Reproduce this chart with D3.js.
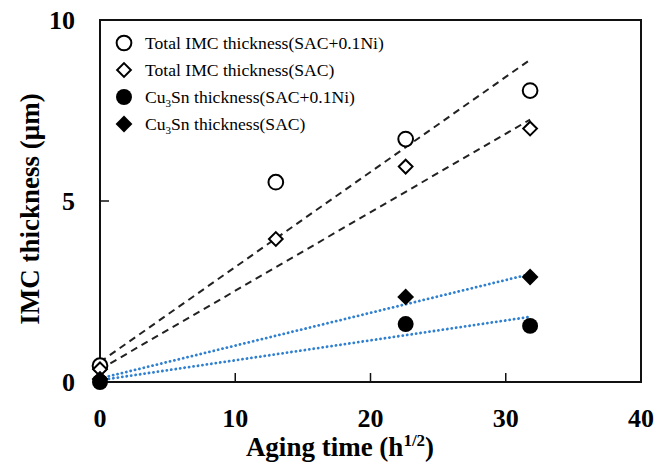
<!DOCTYPE html>
<html>
<head>
<meta charset="utf-8">
<script src="https://cdn.jsdelivr.net/npm/d3@7"></script>
<style>
  body { margin: 0; background: #fff; }
  svg { display: block; font-family: "Liberation Serif", "Times New Roman", serif; }
</style>
</head>
<body>
<svg id="chart" width="658" height="465"></svg>
<script>
// aging time (h^1/2)
const times = [0, 13, 22.6, 31.8];

// thickness values (um) per series
const totalNi = [0.45, 5.52, 6.71, 8.05];
const totalSac = [0.35, 3.95, 5.95, 7.0];
const cu3snNi = [0.0, null, 1.6, 1.55];
const cu3snSac = [0.08, null, 2.35, 2.9];

// linear fit lines: [x0, y0, x1, y1]
const fitTotalNi = [0, 0.55, 31.8, 8.9];
const fitTotalSac = [0, 0.35, 31.8, 7.25];
const fitCuSac = [0, 0.1, 31.8, 2.98];
const fitCuNi = [0, 0.05, 31.8, 1.8];

const xTicks = [0, 10, 20, 30, 40];
const yTicks = [0, 5, 10];

const margin = { left: 100, right: 17, top: 20, bottom: 83 };
const svg = d3.select("#chart");
const W = +svg.attr("width"), H = +svg.attr("height");
const iw = W - margin.left - margin.right;
const ih = H - margin.top - margin.bottom;

const x = d3.scaleLinear().domain([0, 40]).range([0, iw]);
const y = d3.scaleLinear().domain([0, 10]).range([ih, 0]);

const g = svg.append("g").attr("transform", `translate(${margin.left},${margin.top})`);

// fit lines
const line = d3.line().x(d => x(d[0])).y(d => y(d[1]));
function fit(f, color, dash) {
    g.append("path")
        .attr("d", line([[f[0], f[1]], [f[2], f[3]]]))
        .attr("fill", "none")
        .attr("stroke", color)
        .attr("stroke-width", color === "#222" ? 2 : 2.8)
        .attr("stroke-dasharray", dash)
        .attr("stroke-linecap", color === "#222" ? "butt" : "round");
}
fit(fitTotalNi, "#222", "7,5");
fit(fitTotalSac, "#222", "7,5");
fit(fitCuSac, "#2f80d0", "0.1,4.4");
fit(fitCuNi, "#2f80d0", "0.1,4.4");

// frame
g.append("rect")
    .attr("width", iw).attr("height", ih)
    .attr("fill", "none").attr("stroke", "#111").attr("stroke-width", 2);

// ticks (inward)
g.selectAll(".xt").data(xTicks.slice(1, -1)).enter().append("line")
    .attr("x1", d => x(d)).attr("x2", d => x(d))
    .attr("y1", ih).attr("y2", ih - 9)
    .attr("stroke", "#111").attr("stroke-width", 1.5);
g.selectAll(".yt").data(yTicks.slice(1, -1)).enter().append("line")
    .attr("x1", 0).attr("x2", 9)
    .attr("y1", d => y(d)).attr("y2", d => y(d))
    .attr("stroke", "#111").attr("stroke-width", 1.5);

// tick labels
g.selectAll(".xl").data(xTicks).enter().append("text")
    .attr("x", d => x(d)).attr("y", ih + 45)
    .attr("text-anchor", "middle")
    .attr("font-size", 26).attr("font-weight", "bold")
    .text(d => d);
g.selectAll(".yl").data(yTicks).enter().append("text")
    .attr("x", -25).attr("y", d => y(d) + 9)
    .attr("text-anchor", "end")
    .attr("font-size", 26).attr("font-weight", "bold")
    .text(d => d);

// axis titles
const xt = svg.append("text")
    .attr("x", 340).attr("y", 456)
    .attr("text-anchor", "middle")
    .attr("font-size", 27).attr("font-weight", "bold");
xt.append("tspan").text("Aging time (h");
xt.append("tspan").attr("dy", -10).attr("font-size", 17).text("1/2");
xt.append("tspan").attr("dy", 10).text(")");

svg.append("text")
    .attr("transform", `translate(39,${margin.top + y(5) + 8}) rotate(-90)`)
    .attr("text-anchor", "middle")
    .attr("font-size", 27).attr("font-weight", "bold")
    .text("IMC thickness (\u03bcm)");

// markers
const circle = d3.symbol().type(d3.symbolCircle);
const diamond = d3.symbol().type(d3.symbolDiamond2);
function marks(vals, sym, size, filled) {
    g.selectAll(null)
        .data(times.map((t, i) => [t, vals[i]]).filter(d => d[1] != null))
        .enter().append("path")
        .attr("transform", d => `translate(${x(d[0])},${y(d[1])})`)
        .attr("d", sym.size(size)())
        .attr("fill", filled ? "#000" : "#fff")
        .attr("stroke", "#000")
        .attr("stroke-width", filled ? 0 : 2);
}
marks(totalNi, circle, 170, false);
marks(totalSac, diamond, 120, false);
marks(cu3snNi, circle, 200, true);
marks(cu3snSac, diamond, 180, true);

// legend
const legend = [
    { label: ["Total IMC thickness(SAC+0.1Ni)"], sym: circle, size: 170, filled: false },
    { label: ["Total IMC thickness(SAC)"], sym: diamond, size: 120, filled: false },
    { label: ["Cu", "3", "Sn thickness(SAC+0.1Ni)"], sym: circle, size: 200, filled: true },
    { label: ["Cu", "3", "Sn thickness(SAC)"], sym: diamond, size: 180, filled: true }
];
const lg = svg.append("g").attr("transform", "translate(124,43)");
legend.forEach((d, i) => {
    const row = lg.append("g").attr("transform", `translate(0,${i * 27})`);
    row.append("path")
        .attr("d", d.sym.size(d.size)())
        .attr("fill", d.filled ? "#000" : "#fff")
        .attr("stroke", "#000")
        .attr("stroke-width", d.filled ? 0 : 2);
    const t = row.append("text").attr("x", 21).attr("y", 6).attr("font-size", 17.6);
    if (d.label.length === 1) {
        t.text(d.label[0]);
    } else {
        t.append("tspan").text(d.label[0]);
        t.append("tspan").attr("dy", 4).attr("font-size", 11).text(d.label[1]);
        t.append("tspan").attr("dy", -4).text(d.label[2]);
    }
});
</script>
</body>
</html>
